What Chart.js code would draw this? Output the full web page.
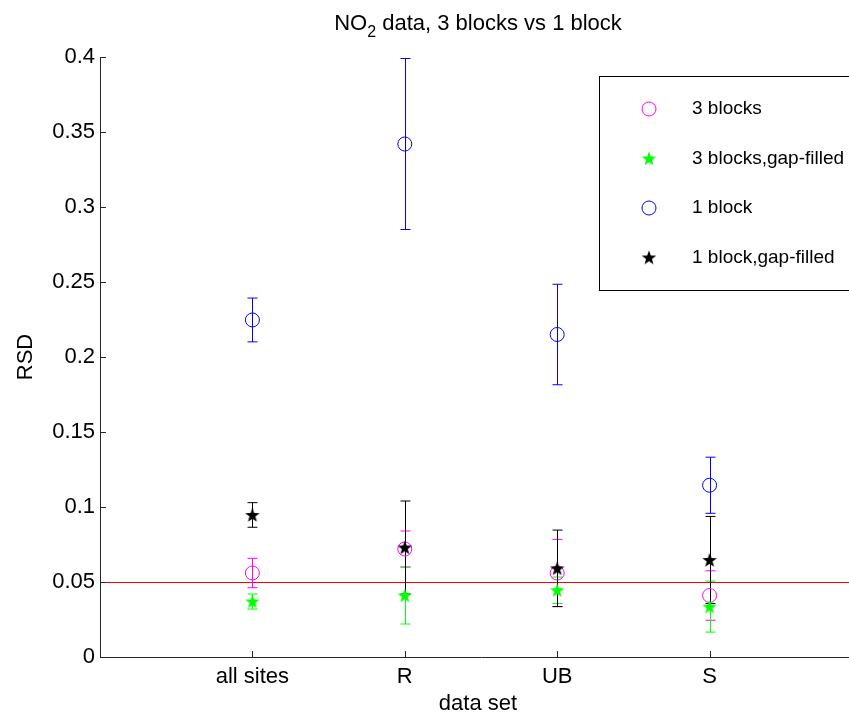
<!DOCTYPE html>
<html>
<head>
<meta charset="utf-8">
<script src="https://cdn.jsdelivr.net/npm/chart.js@4.4.0/dist/chart.umd.min.js"></script>
<style>
  html, body { margin:0; padding:0; background:#fff; overflow:hidden; }
  #wrap { width:849px; height:717px; position:relative; overflow:hidden; }
</style>
</head>
<body>
<div id="wrap"><canvas id="chart" width="870" height="717"></canvas></div>
<script>
// ---------------------------
// DATA
// ---------------------------
const categories = ["all sites", "R", "UB", "S"];
const yTicks = [0, 0.05, 0.1, 0.15, 0.2, 0.25, 0.3, 0.35, 0.4];

const threeBlocks       = [0.056, 0.072, 0.056, 0.041];
const threeBlocksErr    = [0.0098, 0.012, 0.0224, 0.0165];
const threeBlocksGap    = [0.037, 0.041, 0.0445, 0.0336];
const threeBlocksGapErr = [0.005, 0.019, 0.0088, 0.017];
const oneBlock          = [0.2247, 0.342, 0.215, 0.1145];
const oneBlockErr       = [0.0146, 0.057, 0.0335, 0.0187];
const oneBlockGap       = [0.0947, 0.073, 0.0591, 0.0647];
const oneBlockGapErr    = [0.0082, 0.031, 0.0255, 0.029];
const threshold = 0.05;

// ---------------------------
// HELPERS
// ---------------------------
const FONT = "'Liberation Sans', Arial, Helvetica, sans-serif";

function makeStar(color){
  const c = document.createElement("canvas");
  c.width = c.height = 18;
  const g = c.getContext("2d");
  g.fillStyle = color;
  g.beginPath();
  for(let i=0;i<10;i++){
    const r = i%2 ? 3.1 : 7.6;
    const a = -Math.PI/2 + i*Math.PI/5;
    g.lineTo(9 + r*Math.cos(a), 9.6 + r*Math.sin(a));
  }
  g.closePath();
  g.fill();
  return c;
}
const greenStar = makeStar("#00ff00");
const blackStar = makeStar("#000000");

const toPts = (vals)=>vals.map((v,i)=>({x:i+1, y:v}));

const SERIES = [
  {label:"3 blocks",            vals:threeBlocks,    err:threeBlocksErr,    color:"#ff00ff", style:"circle"},
  {label:"3 blocks,gap-filled", vals:threeBlocksGap, err:threeBlocksGapErr, color:"#00ff00", style:greenStar},
  {label:"1 block",             vals:oneBlock,       err:oneBlockErr,       color:"#0000ff", style:"circle"},
  {label:"1 block,gap-filled",  vals:oneBlockGap,    err:oneBlockGapErr,    color:"#000000", style:blackStar},
];

// error bars + threshold line, drawn under the markers
const errorBars = {
  id:"errorBars",
  beforeDatasetsDraw(chart){
    const {ctx, chartArea, scales:{x, y}} = chart;
    ctx.save();
    const ty = y.getPixelForValue(threshold);
    ctx.strokeStyle = "#ff0000";
    ctx.lineWidth = 1;
    ctx.beginPath();
    ctx.moveTo(chartArea.left, Math.round(ty)+0.5);
    ctx.lineTo(chart.width, Math.round(ty)+0.5);
    ctx.stroke();

    SERIES.forEach(s=>{
      ctx.strokeStyle = s.color;
      ctx.lineWidth = 1;
      s.vals.forEach((v,i)=>{
        const px = Math.round(x.getPixelForValue(i+1))+0.5;
        const top = y.getPixelForValue(v + s.err[i]);
        const bot = y.getPixelForValue(v - s.err[i]);
        ctx.beginPath();
        ctx.moveTo(px, top); ctx.lineTo(px, bot);
        ctx.moveTo(px-5, top); ctx.lineTo(px+5, top);
        ctx.moveTo(px-5, bot); ctx.lineTo(px+5, bot);
        ctx.stroke();
      });
    });
    ctx.restore();
  }
};

// inward ticks, titles and the legend box
const decorations = {
  id:"decorations",
  afterDraw(chart){
    const {ctx, chartArea, scales:{x, y}} = chart;
    ctx.save();
    ctx.strokeStyle = "#262626";
    ctx.lineWidth = 1;
    ctx.beginPath();
    yTicks.forEach(v=>{
      const py = Math.round(y.getPixelForValue(v))+0.5;
      ctx.moveTo(chartArea.left, py); ctx.lineTo(chartArea.left+6, py);
    });
    categories.forEach((c,i)=>{
      const px = Math.round(x.getPixelForValue(i+1))+0.5;
      ctx.moveTo(px, chartArea.bottom); ctx.lineTo(px, chartArea.bottom-6);
    });
    ctx.stroke();

    const cx = 478;
    // title with subscript
    ctx.fillStyle = "#000";
    ctx.textBaseline = "alphabetic";
    const big = "22px " + FONT, small = "16px " + FONT;
    const parts = [["NO", big, 0], ["2", small, 7], [" data, 3 blocks vs 1 block", big, 0]];
    let w = 0;
    parts.forEach(p=>{ ctx.font = p[1]; w += ctx.measureText(p[0]).width; });
    let tx = cx - w/2;
    parts.forEach(p=>{
      ctx.font = p[1];
      ctx.fillText(p[0], tx, 30 + p[2]);
      tx += ctx.measureText(p[0]).width;
    });

    // axis titles
    ctx.font = "22px " + FONT;
    ctx.textAlign = "center";
    ctx.textBaseline = "middle";
    ctx.fillText("data set", cx, 704);
    ctx.save();
    ctx.translate(26, (chartArea.top + chartArea.bottom)/2);
    ctx.rotate(-Math.PI/2);
    ctx.fillText("RSD", 0, 0);
    ctx.restore();

    // legend
    const lx = 599, ly = 76, lw = 290, lh = 214;
    ctx.fillStyle = "#fff";
    ctx.fillRect(lx, ly, lw, lh);
    ctx.strokeStyle = "#000";
    ctx.strokeRect(lx+0.5, ly+0.5, lw, lh);
    ctx.font = "19px " + FONT;
    ctx.textAlign = "left";
    SERIES.forEach((s,i)=>{
      const cy = 109 + i*49.5;
      if (s.style === "circle"){
        ctx.strokeStyle = s.color;
        ctx.beginPath();
        ctx.arc(649, cy, 7, 0, Math.PI*2);
        ctx.stroke();
      } else {
        ctx.drawImage(s.style, 649-9, cy-9);
      }
      ctx.fillStyle = "#000";
      ctx.fillText(s.label, 692, cy);
    });
    ctx.restore();
  }
};

// ---------------------------
// CHART
// ---------------------------
const ctx = document.getElementById("chart");
new Chart(ctx, {
  type:"scatter",
  data:{
    datasets: SERIES.map((s,i)=>({
      label:s.label,
      data:toPts(s.vals),
      pointStyle:s.style,
      radius:7,
      borderColor:s.color,
      backgroundColor:"rgba(0,0,0,0)",
      borderWidth:1,
      order: SERIES.length - i
    }))
  },
  options:{
    responsive:false,
    animation:false,
    devicePixelRatio:1,
    layout:{ padding:{ top:57, left:0, right:0, bottom:0 } },
    plugins:{ legend:{ display:false }, tooltip:{ enabled:false }, title:{ display:false } },
    scales:{
      x:{
        type:"linear", min:0, max:5,
        afterBuildTicks:(s)=>{ s.ticks = categories.map((c,i)=>({value:i+1})); },
        afterFit:(s)=>{ s.height = 60; },
        ticks:{ callback:(v)=>categories[v-1], color:"#000", padding:7, autoSkip:false, maxRotation:0,
                font:{ family:FONT, size:22 } },
        grid:{ display:true, drawOnChartArea:false, drawTicks:false },
        border:{ color:"#262626", width:1 }
      },
      y:{
        type:"linear", min:0, max:0.4,
        afterBuildTicks:(s)=>{ s.ticks = yTicks.map(v=>({value:v})); },
        afterFit:(s)=>{ s.width = 100; },
        ticks:{ callback:(v)=>String(+v.toFixed(2)), color:"#000", padding:5,
                font:{ family:FONT, size:22 } },
        grid:{ display:true, drawOnChartArea:false, drawTicks:false },
        border:{ color:"#262626", width:1 }
      }
    }
  },
  plugins:[errorBars, decorations]
});
</script>
</body>
</html>
